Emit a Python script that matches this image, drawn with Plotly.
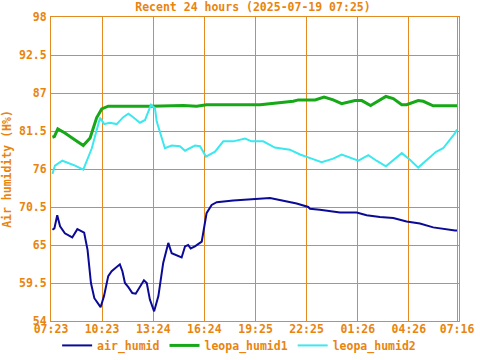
import plotly.graph_objects as go
import pandas as pd

# ---- data ----
air_time = ["2025-07-18 07:28","2025-07-18 07:35","2025-07-18 07:45","2025-07-18 07:55","2025-07-18 08:12",
            "2025-07-18 08:30","2025-07-18 08:38","2025-07-18 08:56","2025-07-18 09:13","2025-07-18 09:20",
            "2025-07-18 09:32","2025-07-18 09:44","2025-07-18 09:56","2025-07-18 10:10","2025-07-18 10:18",
            "2025-07-18 10:30","2025-07-18 10:45","2025-07-18 10:57","2025-07-18 11:15","2025-07-18 11:26",
            "2025-07-18 11:35","2025-07-18 11:44","2025-07-18 11:56","2025-07-18 12:10","2025-07-18 12:22",
            "2025-07-18 12:37","2025-07-18 12:51","2025-07-18 13:01","2025-07-18 13:12","2025-07-18 13:27",
            "2025-07-18 13:42","2025-07-18 13:59","2025-07-18 14:17","2025-07-18 14:29","2025-07-18 14:47",
            "2025-07-18 15:04","2025-07-18 15:16","2025-07-18 15:27","2025-07-18 15:36","2025-07-18 15:51",
            "2025-07-18 16:15","2025-07-18 16:23","2025-07-18 16:32","2025-07-18 16:50","2025-07-18 17:08",
            "2025-07-18 18:06","2025-07-18 19:05","2025-07-18 20:16","2025-07-18 21:03","2025-07-18 21:50",
            "2025-07-18 22:31","2025-07-18 22:37","2025-07-18 23:12","2025-07-18 23:48","2025-07-19 00:23",
            "2025-07-19 01:22","2025-07-19 01:57","2025-07-19 02:44","2025-07-19 03:31","2025-07-19 04:18",
            "2025-07-19 05:05","2025-07-19 05:52","2025-07-19 06:27","2025-07-19 07:09","2025-07-19 07:16"]
air_humid = [67.2, 67.4, 69.3, 67.7, 66.7,
             66.2, 66.1, 67.3, 67.0, 66.8,
             64.3, 59.5, 57.3, 56.4, 56.0,
             57.6, 60.5, 61.2, 61.9, 62.2,
             61.2, 59.5, 58.9, 58.05, 57.95,
             59.0, 59.9, 59.5, 57.1, 55.4,
             57.6, 62.4, 65.3, 63.8, 63.45,
             63.2, 64.8, 65.0, 64.5, 64.8,
             65.5, 67.2, 69.6, 70.8, 71.2,
             71.45, 71.65, 71.8, 71.4, 71.0,
             70.5, 70.25, 70.1, 69.95, 69.7,
             69.7, 69.3, 69.05, 68.9, 68.4,
             68.1, 67.55, 67.3, 67.1, 67.1]

leo1_time = ["2025-07-18 07:28","2025-07-18 07:35","2025-07-18 07:47","2025-07-18 08:12","2025-07-18 08:48",
             "2025-07-18 09:17","2025-07-18 09:41","2025-07-18 10:04","2025-07-18 10:22","2025-07-18 10:45",
             "2025-07-18 13:12","2025-07-18 15:10","2025-07-18 15:57","2025-07-18 16:32","2025-07-18 19:41",
             "2025-07-18 20:40","2025-07-18 21:38","2025-07-18 21:56","2025-07-18 22:55","2025-07-18 23:27",
             "2025-07-18 23:59","2025-07-19 00:29","2025-07-19 01:16","2025-07-19 01:40","2025-07-19 02:11",
             "2025-07-19 03:05","2025-07-19 03:31","2025-07-19 04:01","2025-07-19 04:18","2025-07-19 04:59",
             "2025-07-19 05:17","2025-07-19 05:52","2025-07-19 07:16"]
leopa_humid1 = [80.6, 80.7, 81.8, 81.2, 80.2,
                79.4, 80.5, 83.4, 84.7, 85.1,
                85.1, 85.2, 85.1, 85.3, 85.3,
                85.55, 85.8, 86.0, 86.0, 86.4,
                86.0, 85.45, 85.9, 85.9, 85.2,
                86.5, 86.2, 85.3, 85.3, 85.9,
                85.8, 85.15, 85.15]

leo2_time = ["2025-07-18 07:28","2025-07-18 07:37","2025-07-18 08:03","2025-07-18 08:24","2025-07-18 08:48",
             "2025-07-18 09:17","2025-07-18 09:47","2025-07-18 10:16","2025-07-18 10:31","2025-07-18 10:51",
             "2025-07-18 11:15","2025-07-18 11:38","2025-07-18 11:56","2025-07-18 12:13","2025-07-18 12:37",
             "2025-07-18 12:55","2025-07-18 13:16","2025-07-18 13:30","2025-07-18 13:36","2025-07-18 14:05",
             "2025-07-18 14:29","2025-07-18 14:58","2025-07-18 15:16","2025-07-18 15:51","2025-07-18 16:09",
             "2025-07-18 16:30","2025-07-18 17:02","2025-07-18 17:31","2025-07-18 18:06","2025-07-18 18:48",
             "2025-07-18 19:11","2025-07-18 19:52","2025-07-18 20:33","2025-07-18 21:26","2025-07-18 22:02",
             "2025-07-18 22:43","2025-07-18 23:18","2025-07-18 23:59","2025-07-19 00:29","2025-07-19 01:28",
             "2025-07-19 02:03","2025-07-19 02:32","2025-07-19 03:05","2025-07-19 04:01","2025-07-19 04:30",
             "2025-07-19 04:59","2025-07-19 05:29","2025-07-19 06:02","2025-07-19 06:27","2025-07-19 06:51",
             "2025-07-19 07:09","2025-07-19 07:16"]
leopa_humid2 = [75.3, 76.5, 77.2, 76.9, 76.5,
                75.9, 79.0, 83.4, 82.5, 82.7,
                82.5, 83.5, 84.0, 83.5, 82.7,
                83.1, 85.3, 84.8, 82.9, 79.0,
                79.4, 79.3, 78.65, 79.4, 79.3,
                77.8, 78.5, 80.0, 80.0, 80.4,
                80.0, 80.0, 79.1, 78.8, 78.1,
                77.5, 77.0, 77.5, 78.1, 77.2,
                78.0, 77.2, 76.4, 78.3, 77.35,
                76.2, 77.35, 78.5, 79.0, 80.2,
                81.2, 81.7]

x_tick_times = ["2025-07-18 07:23","2025-07-18 10:23","2025-07-18 13:24","2025-07-18 16:24","2025-07-18 19:25",
                "2025-07-18 22:25","2025-07-19 01:26","2025-07-19 04:26","2025-07-19 07:16"]
x_tick_labels = ["07:23","10:23","13:24","16:24","19:25","22:25","01:26","04:26","07:16"]
y_tick_vals = [54, 59.5, 65, 70.5, 76, 81.5, 87, 92.5, 98]
y_tick_labels = ["54","59.5","65","70.5","76","81.5","87","92.5","98"]

title_text = "Recent 24 hours (2025-07-19 07:25)"
y_title = "Air humidity (H%)"

# ---- style ----
ORANGE = "#e8850f"
GRID = "#e38a22"
FONT = dict(family="DejaVu Sans Mono", size=11.5, color=ORANGE, weight="bold")

fig = go.Figure()
fig.add_trace(go.Scatter(x=pd.to_datetime(air_time), y=air_humid, mode="lines", name="air_humid",
                         line=dict(color="#0a0a96", width=2)))
fig.add_trace(go.Scatter(x=pd.to_datetime(leo1_time), y=leopa_humid1, mode="lines", name="leopa_humid1",
                         line=dict(color="#16a816", width=3)))
fig.add_trace(go.Scatter(x=pd.to_datetime(leo2_time), y=leopa_humid2, mode="lines", name="leopa_humid2",
                         line=dict(color="#3ae8ee", width=2)))

fig.update_layout(
    width=480, height=360,
    margin=dict(l=51, r=21, t=17, b=39, autoexpand=False),
    paper_bgcolor="white", plot_bgcolor="white",
    font=FONT,
    title=dict(text=title_text, x=0.527, xanchor="center", y=0.992, yanchor="top",
               font=FONT),
    showlegend=True,
    legend=dict(orientation="h", x=0.015, xanchor="left", y=-0.128, yanchor="bottom",
                font=FONT, itemwidth=30, bgcolor="rgba(0,0,0,0)", tracegroupgap=0),
)
fig.update_xaxes(
    type="date", range=["2025-07-18 07:23", "2025-07-19 07:23"],
    tickmode="array", tickvals=pd.to_datetime(x_tick_times), ticktext=x_tick_labels,
    showgrid=True, gridcolor=GRID, gridwidth=1,
    showline=True, linecolor=GRID, linewidth=1, mirror=True,
    ticks="", tickfont=FONT, zeroline=False, automargin=False, ticklabelstandoff=-3,
)
fig.update_yaxes(
    range=[54, 98], tickmode="array", tickvals=y_tick_vals, ticktext=y_tick_labels,
    showgrid=True, gridcolor=GRID, gridwidth=1,
    showline=True, linecolor=GRID, linewidth=1, mirror=True,
    ticks="", tickfont=FONT, zeroline=False, automargin=False, ticklabelstandoff=1,
    title=dict(text=y_title, font=FONT, standoff=4),
)

fig.write_html("out.html", config={"displayModeBar": False},
               post_script="document.body.style.margin='0';")
